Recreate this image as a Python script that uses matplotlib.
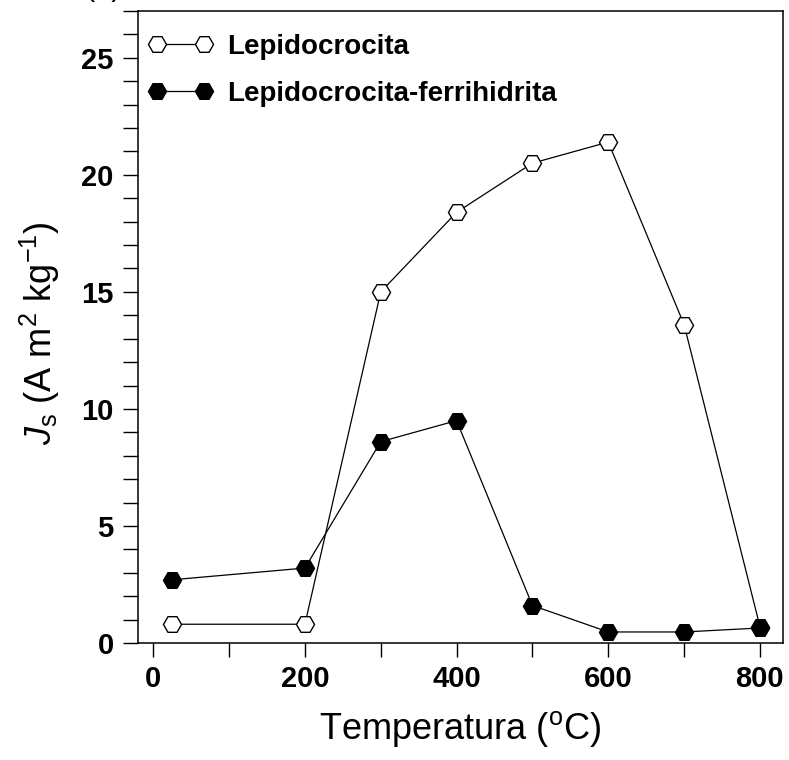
import matplotlib
matplotlib.use('Agg')
import matplotlib.pyplot as plt
from matplotlib.ticker import MultipleLocator

plt.rcParams['font.family'] = ['Liberation Sans', 'DejaVu Sans']
plt.rcParams['mathtext.fontset'] = 'custom'
plt.rcParams['mathtext.rm'] = 'Liberation Sans'
plt.rcParams['mathtext.it'] = 'Liberation Sans:italic'

# temperatures (C) and saturation magnetisation Js
temp = [25, 200, 300, 400, 500, 600, 700, 800]
js_lepido = [0.8, 0.8, 15.0, 18.4, 20.5, 21.4, 13.6, 0.7]
js_lepido_ferri = [2.7, 3.2, 8.6, 9.5, 1.6, 0.47, 0.47, 0.64]

fig = plt.figure(figsize=(7.89, 7.60), dpi=100)
ax = fig.add_axes([0.175, 0.154, 0.817, 0.8315])

ax.plot(temp, js_lepido, color='black', lw=0.9, marker='H', ms=13,
        mfc='white', mec='black', mew=1.0, label='Lepidocrocita')
ax.plot(temp, js_lepido_ferri, color='black', lw=0.9, marker='H', ms=13,
        mfc='black', mec='black', mew=1.0, label='Lepidocrocita-ferrihidrita')

ax.set_xlim(-20, 830)
ax.set_ylim(0, 27)
ax.xaxis.set_major_locator(MultipleLocator(200))
ax.xaxis.set_minor_locator(MultipleLocator(100))
ax.yaxis.set_major_locator(MultipleLocator(5))
ax.yaxis.set_minor_locator(MultipleLocator(1))

for s in ax.spines.values():
    s.set_linewidth(1.1)
ax.tick_params(which='both', direction='out', top=False, right=False, width=1.0)
ax.tick_params(axis='y', which='both', length=10.5, pad=7)
ax.tick_params(axis='x', which='both', length=10, pad=6)
for lab in ax.get_xticklabels() + ax.get_yticklabels():
    lab.set_fontsize(21)
    lab.set_fontweight('bold')

ax.set_xlabel('Temperatura ($\\mathregular{^o}$C)', fontsize=26)
ax.set_ylabel('$J_{\\mathregular{s}}$ (A m$^{\\mathregular{2}}$ kg$^{\\mathregular{-1}}$)', fontsize=26)
ax.yaxis.set_label_coords(-0.118, 0.49)
ax.xaxis.set_label_coords(0.5, -0.105)

ax.legend(loc='upper left', bbox_to_anchor=(0.188, 0.955), bbox_transform=fig.transFigure,
          frameon=False, numpoints=2, handlelength=2.3, handletextpad=0.55,
          labelspacing=0.75, borderpad=0, borderaxespad=0,
          prop={'size': 20, 'weight': 'bold'})

# panel label, mostly cropped off the top like in the source figure
fig.text(0.13, 0.997, '(a)', fontsize=22, ha='center', va='bottom')

fig.savefig('out.png', dpi=100)
